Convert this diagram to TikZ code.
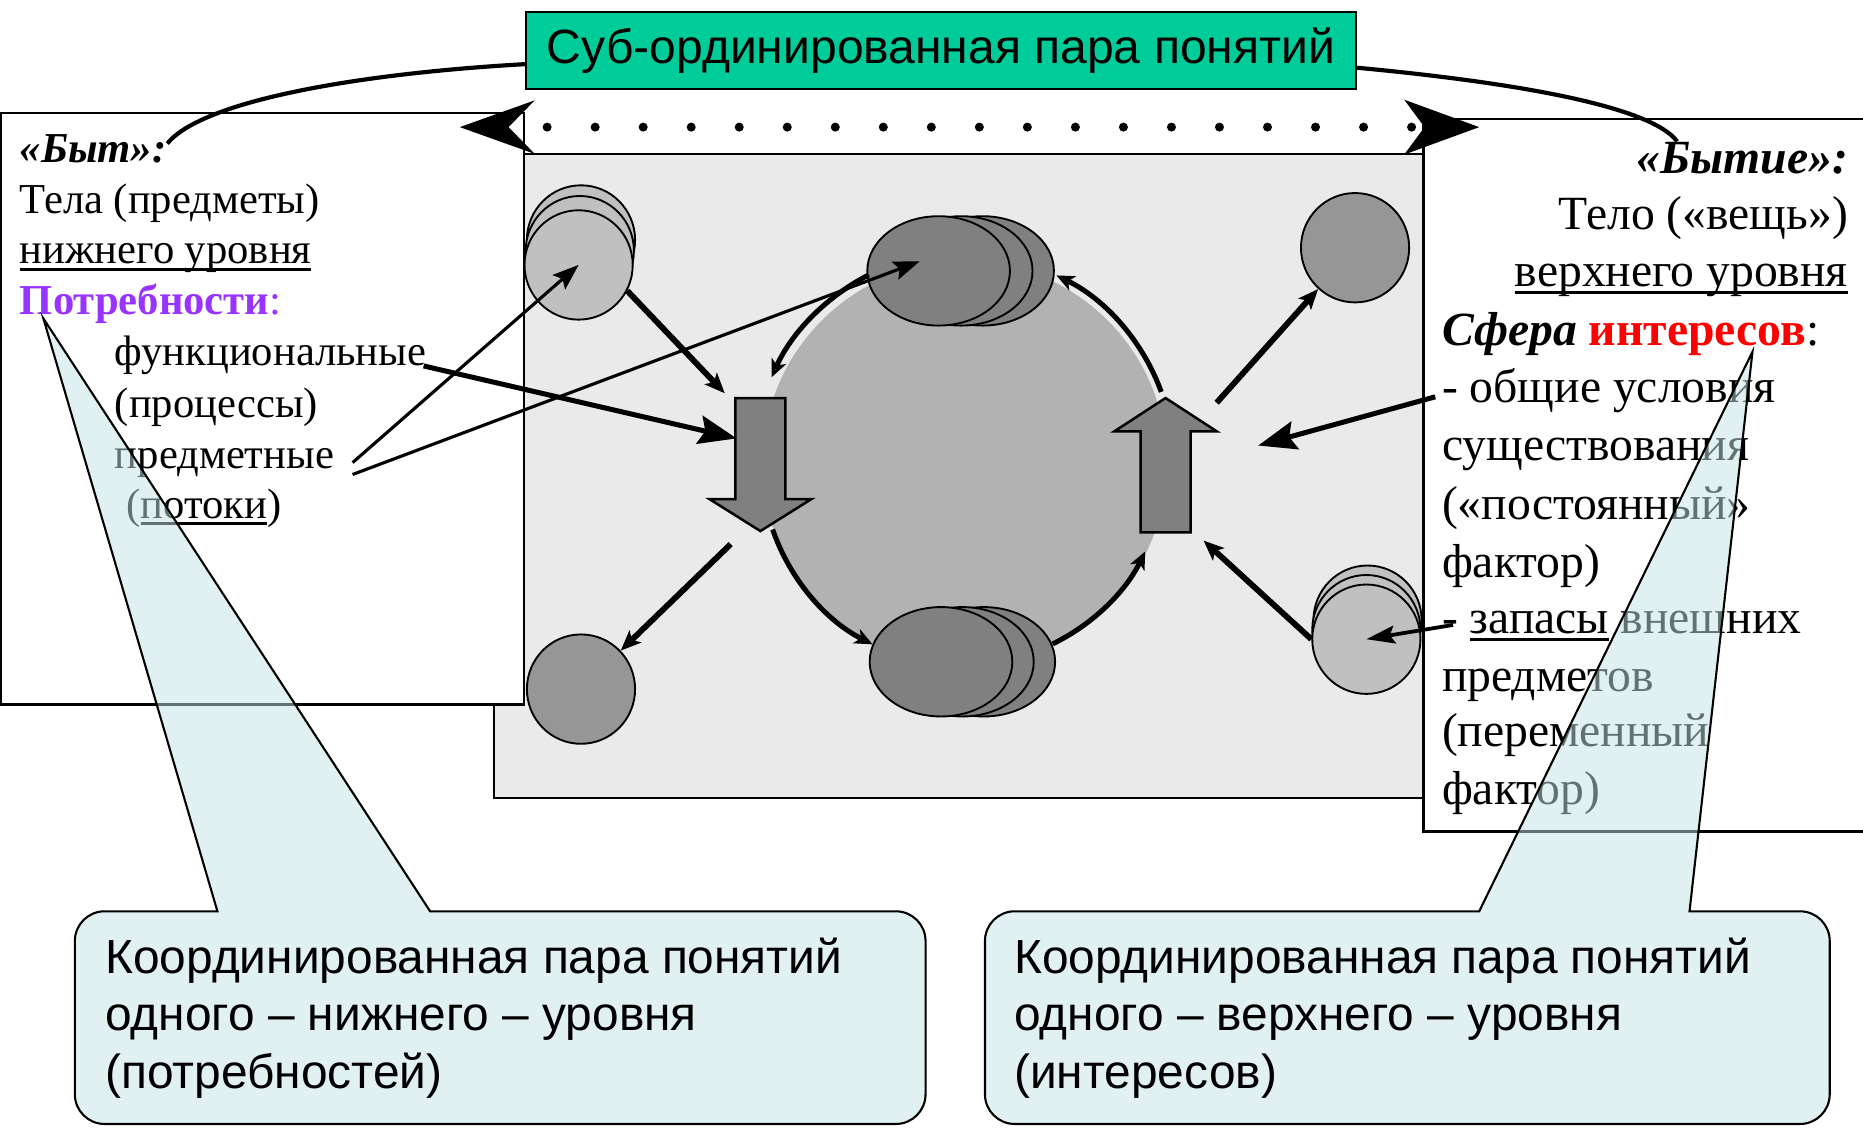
\documentclass[tikz,border=0pt]{standalone}
\usepackage{fontspec}
\setmainfont{Liberation Serif}
\newfontfamily\arialfont{Liberation Sans}
\usetikzlibrary{arrows.meta}
\usetikzlibrary{calc}
\usetikzlibrary{shapes.geometric}

\definecolor{panelGray}{RGB}{234,234,234}
\definecolor{cycleGray}{RGB}{178,178,178}
\definecolor{ballLite}{RGB}{192,192,192}
\definecolor{ballMid}{RGB}{150,150,150}
\definecolor{ballDark}{RGB}{128,128,128}
\definecolor{titleGreen}{RGB}{0,204,153}
\definecolor{needPurple}{RGB}{153,51,255}
\definecolor{callFill}{RGB}{196,226,226}

\newcommand{\undl}[1]{\setbox0\hbox{#1}\rlap{\rule[-0.16em]{\wd0}{0.07em}}\box0{}}

\tikzset{
	lefttxt/.style={anchor=base west, inner sep=0pt, font=\fontsize{10.2}{12.3}\selectfont},
	righttxt/.style={anchor=base west, inner sep=0pt, font=\fontsize{11.4}{13.7}\selectfont},
	calltxt/.style={anchor=base west, inner sep=0pt, font=\arialfont\fontsize{11.45}{13.8}\selectfont},
	liteball/.style={ellipse, draw, fill=ballLite, line width=0.45pt, inner sep=0pt, minimum width=0.91cm, minimum height=0.92cm},
	midball/.style={liteball, fill=ballMid},
	darkball/.style={liteball, fill=ballDark, minimum width=1.2cm, minimum height=0.92cm},
	blockarrow/.style={fill=ballDark, draw=black, line width=0.6pt},
	flow/.style={line width=1.4pt, -{Stealth[open, length=0.17cm, width=0.14cm, inset=0.04cm]}},
	cycarc/.style={line width=1.2pt, -{Stealth[open, length=0.15cm, width=0.13cm, inset=0.04cm]}},
	bigpoint/.style={line width=1.2pt, -{Stealth[length=0.32cm, width=0.24cm, inset=0.05cm]}},
	thinpoint/.style={line width=0.75pt, -{Stealth[length=0.22cm, width=0.16cm, inset=0.04cm]}},
	callout/.style={fill=callFill, fill opacity=0.5, draw=black, line width=0.5pt}
}

\begin{document}
\begin{tikzpicture}[x=0.01cm, y=-0.01cm]
	\useasboundingbox (0,0) rectangle (1568,949);

	% panel with the cycle, text boxes over it
	\filldraw[fill=panelGray, line width=0.5pt] (416,130) rectangle (1198,672);
	\filldraw[fill=white, line width=0.6pt] (1,95) rectangle (441,593);
	\filldraw[fill=white, line width=0.6pt] (1198,100) rectangle (1600,700);

	\node[draw, fill=titleGreen, line width=0.6pt, inner sep=0pt, minimum width=6.98cm, minimum height=0.65cm, font=\arialfont\fontsize{11.5}{13}\selectfont] (title) at (792,42.5) {Суб-ординированная пара понятий};

	% dotted double arrow
	\foreach \i in {0,...,18}
		\fill ({460.5+40.42*\i},107) circle (3.8);
	\coordinate (bandL) at (387,107);
	\coordinate (notchL) at (428,107);
	\coordinate (bandR) at (1245,107);
	\coordinate (notchR) at (1199,107);
	\draw[-{Stealth[length=0.63cm, width=0.45cm, inset=0.22cm]}] (notchL) -- (bandL);
	\draw[-{Stealth[length=0.63cm, width=0.46cm, inset=0.17cm]}] (notchR) -- (bandR);

	% the cycle
	\node[circle, fill=cycleGray, inner sep=0pt, minimum size=3.4cm] (cyc) at (812,390) {};

	\foreach \dx/\n in {37/3, 19/2, 0/1}
		\node[darkball] (td\n) at ({790+\dx},228) {};
	\foreach \dx/\n in {36/3, 18/2, 0/1}
		\node[darkball] (bd\n) at ({792+\dx},557) {};

	\node[liteball] (tl3) at (489,202) {};
	\node[liteball] (tl2) at (488,211) {};
	\node[liteball] (tl1) at (487,223) {};
	\node[liteball] (br3) at (1151,522) {};
	\node[liteball] (br2) at (1150,530) {};
	\node[liteball] (br1) at (1150,538) {};
	\node[midball] (bl) at (489,580) {};
	\node[midball] (tr) at (1140.5,208.5) {};

	\draw[cycarc] ([shift={(243:178)}]cyc.center) arc[start angle=243, end angle=204, radius=178];
	\draw[cycarc] ([shift={(161:171)}]cyc.center) arc[start angle=161, end angle=117, radius=171];
	\draw[cycarc] ([shift={(64:169)}]cyc.center) arc[start angle=64, end angle=26, radius=169];
	\draw[cycarc] ([shift={(-20:176)}]cyc.center) arc[start angle=-20, end angle=-64, radius=176];

	\filldraw[blockarrow] (619,335) -- (661,335) -- (661,420) -- (683,420) -- (640,447) -- (597,420) -- (619,420) -- cycle;
	\filldraw[blockarrow] (960,448) -- (1002,448) -- (1002,363) -- (1024,363) -- (981,335) -- (938,363) -- (960,363) -- cycle;
	\coordinate (downIn) at (610,331);
	\coordinate (downOut) at (615,458);
	\coordinate (upOut) at (1024,339);
	\coordinate (upIn) at (1013,455);

	\draw[flow] (tl1.-28) -- (downIn);
	\draw[flow] (downOut) -- (bl);
	\draw[flow] (upOut) -- (tr);
	\draw[flow] (br1.west) -- (upIn);

	% left text
	\node[lefttxt] (tbyt) at (16,137) {\textbf{\textit{«Быт»:}}};
	\node[lefttxt] (ttela) at (16,180) {Тела (предметы)};
	\node[lefttxt] (tniz) at (16,222) {\undl{нижнего уровня}};
	\node[lefttxt] (tpotr) at (16,265) {\textcolor{needPurple}{\textbf{Потребности}:}};
	\node[lefttxt] (tfunc) at (96,308) {функциональные};
	\node[lefttxt] (tproc) at (96,351) {(процессы)};
	\node[lefttxt] (tpred) at (96,394) {предметные};
	\node[lefttxt] (tpot) at (106,436) {(\undl{потоки})};

	% right text
	\node[righttxt, anchor=base east] (tbytie) at (1556,146) {\textbf{\textit{«Бытие»:}}};
	\node[righttxt, anchor=base east] (ttelo) at (1556,193) {Тело («вещь»)};
	\node[righttxt, anchor=base east] (tverh) at (1556,241) {\undl{верхнего уровня}};
	\node[righttxt] (tsfera) at (1213,291) {\textbf{\textit{Сфера}} \textcolor{red}{\textbf{интересов}}:};
	\node[righttxt] (tobsh) at (1213,339) {- общие условия};
	\node[righttxt] (tsush) at (1213,388) {существования};
	\node[righttxt] (tpost) at (1213,437) {(«постоянный»};
	\node[righttxt] (tfak1) at (1213,486) {фактор)};
	\node[righttxt] (tzap) at (1213,533) {- \undl{запасы} внешних};
	\node[righttxt] (tpred2) at (1213,582) {предметов};
	\node[righttxt] (tper) at (1213,628) {(переменный};
	\node[righttxt] (tfak2) at (1213,677) {фактор)};

	% pointers from the text
	\coordinate (funcHit) at (620,369);
	\coordinate (condHit) at (1059,375);
	\coordinate (stackHit) at (774,220);
	\draw[bigpoint] ([xshift=-0.03cm]tfunc.base east) -- (funcHit);
	\draw[thinpoint] ([xshift=0.15cm]tpred.east) -- (tl1.center);
	\draw[thinpoint] ([xshift=0.15cm, yshift=-0.1cm]tpred.east) -- (stackHit);
	\draw[bigpoint] ([xshift=-0.05cm, yshift=0.05cm]tobsh.base west) -- (condHit);
	\draw[line width=0.9pt, -{Stealth[length=0.24cm, width=0.15cm, inset=0.04cm]}] ([xshift=0.1cm, yshift=0.07cm]tzap.base west) -- (br1.center);

	\draw[line width=1pt] ([yshift=-0.115cm]title.west) .. controls (300,62) and (170,85) .. ([yshift=-0.08cm]tbyt.north east);
	\draw[line width=1pt] ([yshift=-0.145cm]title.east) .. controls (1280,70) and (1390,90) .. ([xshift=0.35cm]tbytie.north west);

	% callouts
	\coordinate (tipL) at (36.5,268);
	\coordinate (tipR) at (1475,296);
	\filldraw[callout] (tipL) -- (362,767) -- (754,767) arc[start angle=-90, end angle=0, radius=25] -- (779,921) arc[start angle=0, end angle=90, radius=25] -- (88,946) arc[start angle=90, end angle=180, radius=25] -- (63,792) arc[start angle=180, end angle=270, radius=25] -- (183,767) -- cycle;
	\filldraw[callout] (tipR) -- (1422,767) -- (1515,767) arc[start angle=-90, end angle=0, radius=25] -- (1540,921) arc[start angle=0, end angle=90, radius=25] -- (854,946) arc[start angle=90, end angle=180, radius=25] -- (829,792) arc[start angle=180, end angle=270, radius=25] -- (1245,767) -- cycle;

	\node[calltxt] (cl1) at (88,819) {Координированная пара понятий};
	\node[calltxt] (cl2) at (88,867) {одного – нижнего – уровня};
	\node[calltxt] (cl3) at (88,916) {(потребностей)};
	\node[calltxt] (cr1) at (853,819) {Координированная пара понятий};
	\node[calltxt] (cr2) at (853,867) {одного – верхнего – уровня};
	\node[calltxt] (cr3) at (853,916) {(интересов)};
\end{tikzpicture}
\end{document}
